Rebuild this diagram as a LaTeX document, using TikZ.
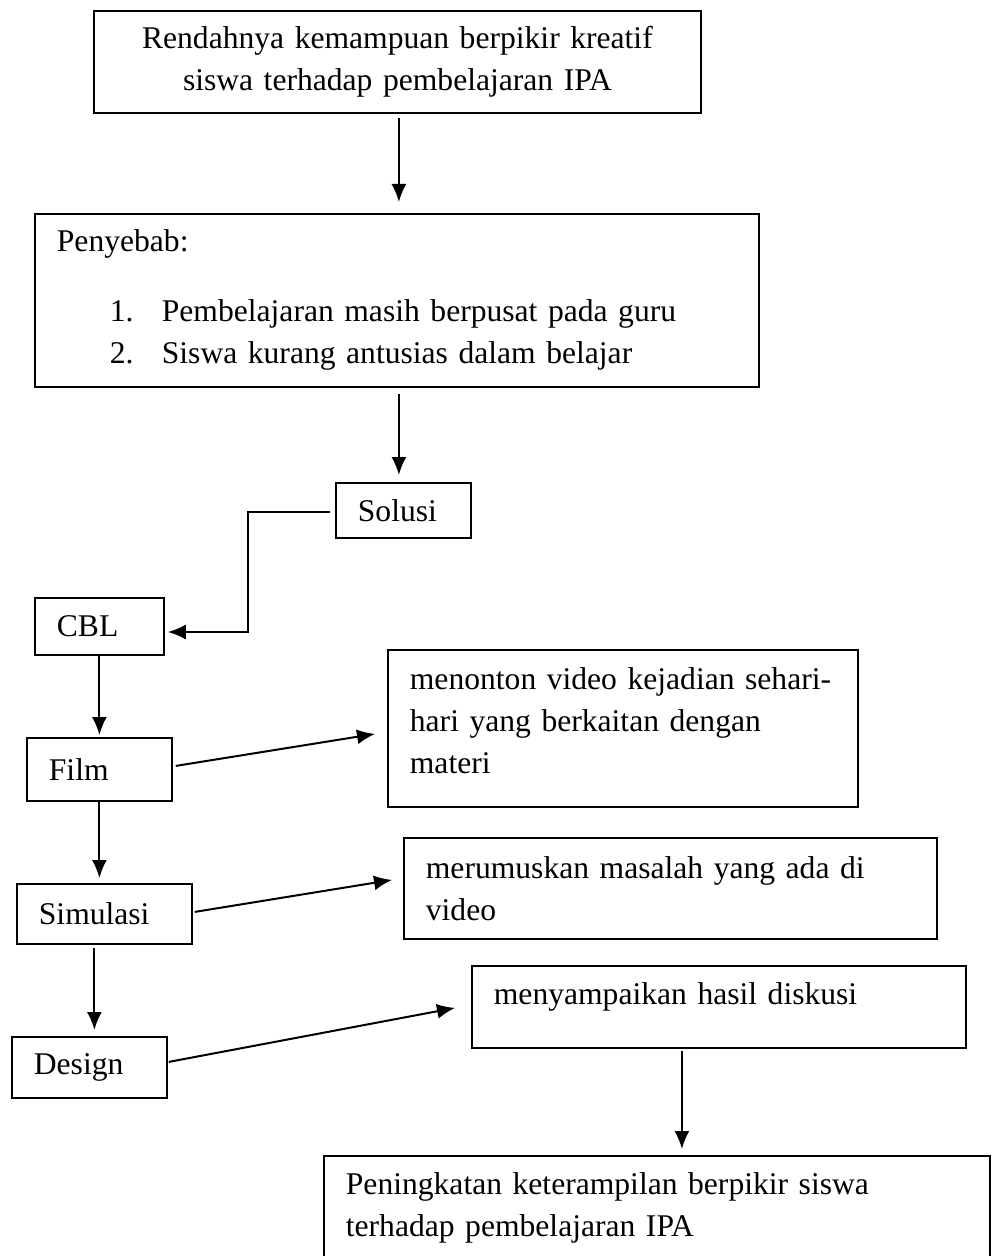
\documentclass[tikz,border=0pt]{standalone}
\usepackage{fontspec}
\setmainfont{Liberation Serif}
\usetikzlibrary{arrows.meta,calc}

\tikzset{
    box/.style={draw, rectangle, line width=0.9pt, anchor=north west, align=left,
        inner xsep=11pt, inner ysep=0pt,
        font=\fontsize{15.8}{21}\selectfont},
    arr/.style={-{Latex[length=9pt,width=7.5pt]}, line width=1pt}
}

\begin{document}
\begin{tikzpicture}[x=0.5pt, y=-0.5pt]
    \useasboundingbox[fill=white] (0,0) rectangle (991,1256);
%
    \node[box, align=center, text width=281.5pt, minimum height=51pt] (masalah) at (93,10)
        {Rendahnya kemampuan berpikir kreatif\\siswa terhadap pembelajaran IPA};
    \node[box, text width=340pt, minimum height=86.5pt] (penyebab) at (34,213)
        {Penyebab:\\[14pt]
        \hspace*{26.5pt}\makebox[26pt][l]{1.}Pembelajaran masih berpusat pada guru\\
        \hspace*{26.5pt}\makebox[26pt][l]{2.}Siswa kurang antusias dalam belajar};
    \node[box, text width=45.5pt, minimum height=27.5pt] (solusi) at (335,482) {Solusi};
%
    \node[box, text width=42.5pt, minimum height=28.5pt] (cbl) at (34,597) {CBL};
    \node[box, text width=50.5pt, minimum height=31.5pt] (film) at (26,737) {Film};
    \node[box, text width=65.5pt, minimum height=30pt] (simulasi) at (16,883) {Simulasi};
    \node[box, text width=55.5pt, minimum height=30.5pt] (design) at (11,1036) {Design};
%
    \node[box, text width=213pt, minimum height=78.5pt, text depth=50pt] (menonton) at (387,649)
        {menonton video kejadian sehari-\\hari yang berkaitan dengan\\materi};
    \node[box, text width=244.5pt, minimum height=50.5pt] (merumuskan) at (403,837)
        {merumuskan masalah yang ada di\\video};
    \node[box, text width=225pt, minimum height=41pt, text depth=13.5pt] (menyampaikan) at (471,965)
        {menyampaikan hasil diskusi};
    \node[box, text width=311pt, minimum height=52pt] (peningkatan) at (323,1155)
        {Peningkatan keterampilan berpikir siswa\\terhadap pembelajaran IPA};
%
    \draw[arr] ($(masalah.south)+(1.5,4)$) -- ($(masalah.south |- penyebab.north)+(1.5,-11)$);
    \draw[arr] ($(penyebab.south)+(2,6)$) -- ($(penyebab.south |- solusi.north)+(2,-7)$);
%
    \coordinate (belok) at (248,632);
    \draw[arr] ($(solusi.west)+(-5,1.5)$) -| (belok) -- ($(cbl.east |- belok)+(3,0)$);
%
    \draw[arr] (cbl.south) -- ($(film.north)+(0,-2)$);
    \draw[arr] (film.south) -- ($(film.south |- simulasi.north)+(0,-5)$);
    \draw[arr] ($(simulasi.south)+(-10,3)$) -- ($(simulasi.south |- design.north)+(-10,-6)$);
%
    \draw[arr] ($(film.east)+(3,-3.5)$) -- ($(menonton.west)+(-12,5.5)$);
    \draw[arr] ($(simulasi.east)+(2,-2)$) -- ($(merumuskan.west)+(-11,-8.5)$);
    \draw[arr] ($(design.east)+(1,-5.5)$) -- ($(menyampaikan.west)+(-16,1)$);
    \draw[arr] ($(menyampaikan.south)+(-37,2)$) -- ($(menyampaikan.south |- peningkatan.north)+(-37,-6)$);
\end{tikzpicture}
\end{document}
